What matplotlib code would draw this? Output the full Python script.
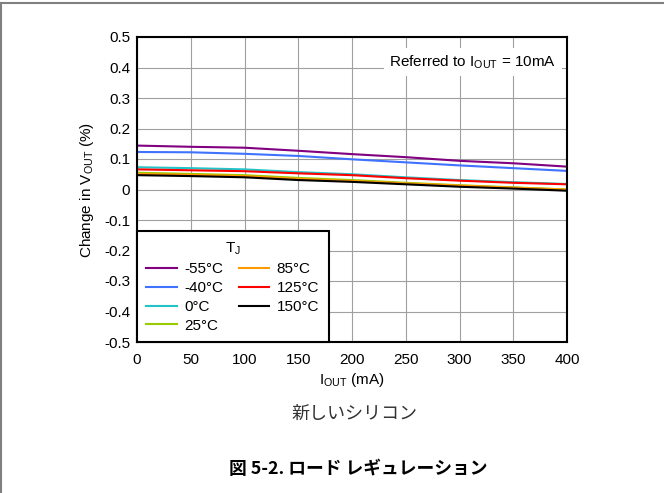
import matplotlib
matplotlib.use('Agg')
import matplotlib.pyplot as plt
from matplotlib.lines import Line2D
import numpy as np

plt.rcParams['font.family'] = ['Liberation Sans', 'DejaVu Sans']
plt.rcParams['mathtext.fontset'] = 'custom'
plt.rcParams['mathtext.rm'] = 'Liberation Sans'

# load current (mA)
iout = [0, 50, 100, 150, 200, 250, 300, 350, 400]

# change in VOUT (%) per junction temperature
dv_m55 = [0.144, 0.140, 0.137, 0.127, 0.116, 0.106, 0.094, 0.086, 0.075]
dv_m40 = [0.123, 0.122, 0.117, 0.110, 0.099, 0.089, 0.079, 0.070, 0.061]
dv_0 = [0.073, 0.070, 0.066, 0.057, 0.050, 0.040, 0.031, 0.024, 0.018]
dv_25 = [0.055, 0.051, 0.047, 0.038, 0.031, 0.022, 0.014, 0.007, 0.000]
dv_85 = [0.051, 0.048, 0.044, 0.035, 0.028, 0.020, 0.013, 0.006, 0.000]
dv_125 = [0.066, 0.063, 0.060, 0.053, 0.047, 0.037, 0.029, 0.022, 0.017]
dv_150 = [0.047, 0.044, 0.040, 0.031, 0.025, 0.017, 0.009, 0.003, -0.004]

labels = ['-55°C', '-40°C', '0°C', '25°C', '85°C', '125°C', '150°C']
series = [dv_m55, dv_m40, dv_0, dv_25, dv_85, dv_125, dv_150]
colors = ['#800080', '#3f72ff', '#22c4c8', '#99cc00', '#ff9900', '#ff0000', '#000000']

fs = 11

fig = plt.figure(figsize=(6.64, 4.93), dpi=100)
ax = fig.add_axes([137/664, 151/493, 430/664, 305/493])

for y, c, lab in zip(series, colors, labels):
    ax.plot(iout, y, color=c, lw=1.5, label=lab)

ax.set_xlim(0, 400)
ax.set_ylim(-0.5, 0.5)
ax.set_xticks(np.arange(0, 401, 50))
ax.set_yticks(np.round(np.arange(-0.5, 0.51, 0.1), 1))
ax.set_yticklabels(['-0.5', '-0.4', '-0.3', '-0.2', '-0.1', '0', '0.1', '0.2', '0.3', '0.4', '0.5'])
ax.tick_params(length=0, labelsize=fs)
ax.tick_params(axis='x', pad=8)
ax.tick_params(axis='y', pad=5)
ax.grid(True, color='#a0a0a0', lw=0.8)
ax.set_axisbelow(True)
for s in ax.spines.values():
    s.set_linewidth(1.5)

ax.set_xlabel(r'I$_{\mathrm{OUT}}$ (mA)', fontsize=fs, labelpad=3)
ax.set_ylabel(r'Change in V$_{\mathrm{OUT}}$ (%)', fontsize=fs, labelpad=6)

ax.text(0.975, 0.918, r'Referred to I$_{\mathrm{OUT}}$ = 10mA', transform=ax.transAxes,
        ha='right', va='center', fontsize=fs,
        bbox=dict(facecolor='white', edgecolor='none', pad=4))

leg = ax.legend(ncol=2, title=r'T$_{\mathrm{J}}$', loc='lower left', fontsize=fs,
                title_fontsize=fs, frameon=True, fancybox=False, framealpha=1,
                borderaxespad=0, bbox_to_anchor=(0, 0),
                handlelength=2.0, handletextpad=0.5, columnspacing=1.0,
                labelspacing=0.32, borderpad=0.6)
leg.get_frame().set_edgecolor('black')
leg.get_frame().set_linewidth(1.5)

fig.text(354/664, 1 - 414/493, '新しいシリコン', ha='center', va='center',
         fontsize=13, color='#333333', family=['Noto Sans CJK JP', 'DejaVu Sans'])
fig.text(358/664, 1 - 469/493, '図 5-2. ロード レギュレーション', ha='center', va='center',
         fontsize=12.8, fontweight='bold', family=['Noto Sans CJK JP', 'DejaVu Sans'])

# page frame lines (top and left)
fig.add_artist(Line2D([0, 1], [1 - 3/493, 1 - 3/493], color='#808080', lw=1.5))
fig.add_artist(Line2D([0.5/664, 0.5/664], [0, 1 - 3/493], color='#808080', lw=1.5))

fig.savefig('out.png', dpi=100)
